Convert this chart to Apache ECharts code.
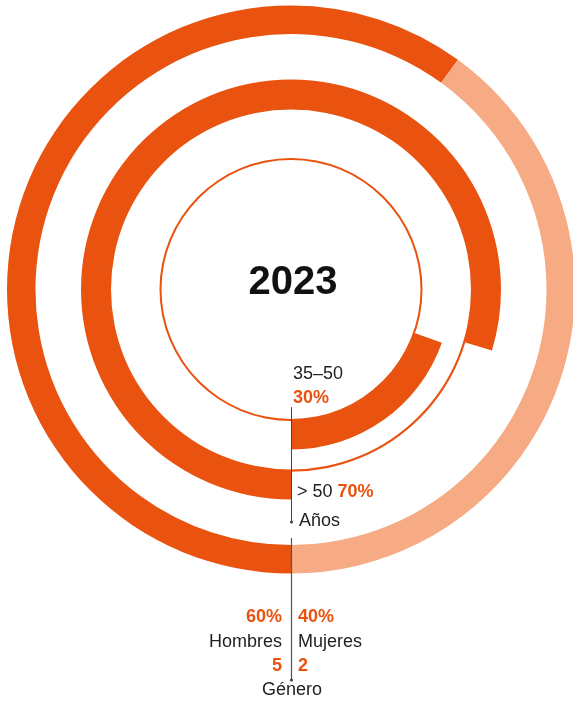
<!DOCTYPE html>
<html>
<head>
<meta charset="utf-8">
<script src="https://cdn.jsdelivr.net/npm/echarts@6/dist/echarts.min.js"></script>
<style>
html,body{margin:0;padding:0;background:#fff;}
#c{width:573px;height:704px;}
</style>
</head>
<body>
<div id="c"></div>
<script>
// ---- data ----
const year = '2023';
const genderLabels = ['Hombres', 'Mujeres'];
const genderPct = [60, 40];
const genderCount = [5, 2];
const ageLabels = ['35–50', '> 50'];
const agePct = [30, 70];
// arc lengths as drawn in the picture (% of a full turn)
const ageArcOver50 = [79.7, 20.3];   // middle ring: drawn, rest empty
const ageArc3550 = [19.6, 80.4];     // inner ring: drawn, rest empty
const groupTitles = ['Años', 'Género'];

const DARK = '#E9520F';
const LIGHT = '#F6AB85';
const NONE = 'rgba(0,0,0,0)';
const FONT = '"Liberation Sans", Arial, sans-serif';
const C = [291, 289.5];

const chart = echarts.init(document.getElementById('c'), null, {renderer: 'canvas'});

function ring(name, radius, values, colors, clockwise, z) {
  return {
    type: 'pie', name: name, center: C, radius: radius,
    startAngle: 270, clockwise: clockwise, silent: true,
    label: {show: false}, labelLine: {show: false},
    emphasis: {disabled: true}, z: z || 2,
    itemStyle: {borderWidth: 0},
    data: values.map((v, i) => ({value: v, itemStyle: {color: colors[i]}}))
  };
}

const txt = (x, y, text, opt) => Object.assign({
  type: 'text', z: 100, silent: true,
  style: Object.assign({x: x, y: y, text: text, font: '18px ' + FONT, fill: '#222',
    textAlign: 'left', textVerticalAlign: 'middle'}, opt || {})
});

const option = {
  animation: false,
  backgroundColor: '#fff',
  series: [
    ring('genero', [255.5, 284], genderPct, [DARK, LIGHT], true),
    ring('thin2', [180, 182.2], [100], [DARK], true),
    ring('mayores', [181.5, 210], ageArcOver50, [DARK, NONE], true),
    ring('thin1', [129.5, 131.5], [100], [DARK], true),
    ring('medios', [131, 160], ageArc3550, [DARK, NONE], false)
  ],
  graphic: [
    {type: 'text', z: 100, silent: true, style: {x: 293, y: 283, text: year,
      font: 'bold 40px ' + FONT, fill: '#111', textAlign: 'center', textVerticalAlign: 'middle'}},
    // connector lines
    {type: 'line', z: 100, silent: true, shape: {x1: 291.5, y1: 407, x2: 291.5, y2: 522},
      style: {stroke: '#444', lineWidth: 1}},
    {type: 'circle', z: 100, silent: true, shape: {cx: 291.5, cy: 522, r: 1.6}, style: {fill: '#444'}},
    {type: 'line', z: 100, silent: true, shape: {x1: 291.5, y1: 538, x2: 291.5, y2: 680},
      style: {stroke: '#555', lineWidth: 1.2}},
    {type: 'circle', z: 100, silent: true, shape: {cx: 291.5, cy: 680, r: 1.6}, style: {fill: '#444'}},
    // age labels
    txt(293, 374.5, ageLabels[0]),
    txt(293, 398.5, agePct[0] + '%', {font: 'bold 18px ' + FONT, fill: DARK}),
    {type: 'text', z: 100, silent: true, style: {x: 297, y: 492.5,
      text: '{n|' + ageLabels[1] + ' }{b|' + agePct[1] + '%}',
      textVerticalAlign: 'middle', textAlign: 'left',
      rich: {n: {font: '18px ' + FONT, fill: '#222'}, b: {font: 'bold 18px ' + FONT, fill: DARK}}}},
    txt(299, 521, groupTitles[0]),
    // gender labels
    txt(282, 617.5, genderPct[0] + '%', {font: 'bold 18px ' + FONT, fill: DARK, textAlign: 'right'}),
    txt(298, 617.5, genderPct[1] + '%', {font: 'bold 18px ' + FONT, fill: DARK}),
    txt(282, 642.5, genderLabels[0], {textAlign: 'right'}),
    txt(298, 642.5, genderLabels[1]),
    txt(282, 666.5, String(genderCount[0]), {font: 'bold 18px ' + FONT, fill: DARK, textAlign: 'right'}),
    txt(298, 666.5, String(genderCount[1]), {font: 'bold 18px ' + FONT, fill: DARK}),
    txt(292, 690, groupTitles[1], {textAlign: 'center'})
  ]
};
chart.setOption(option);
</script>
</body>
</html>
